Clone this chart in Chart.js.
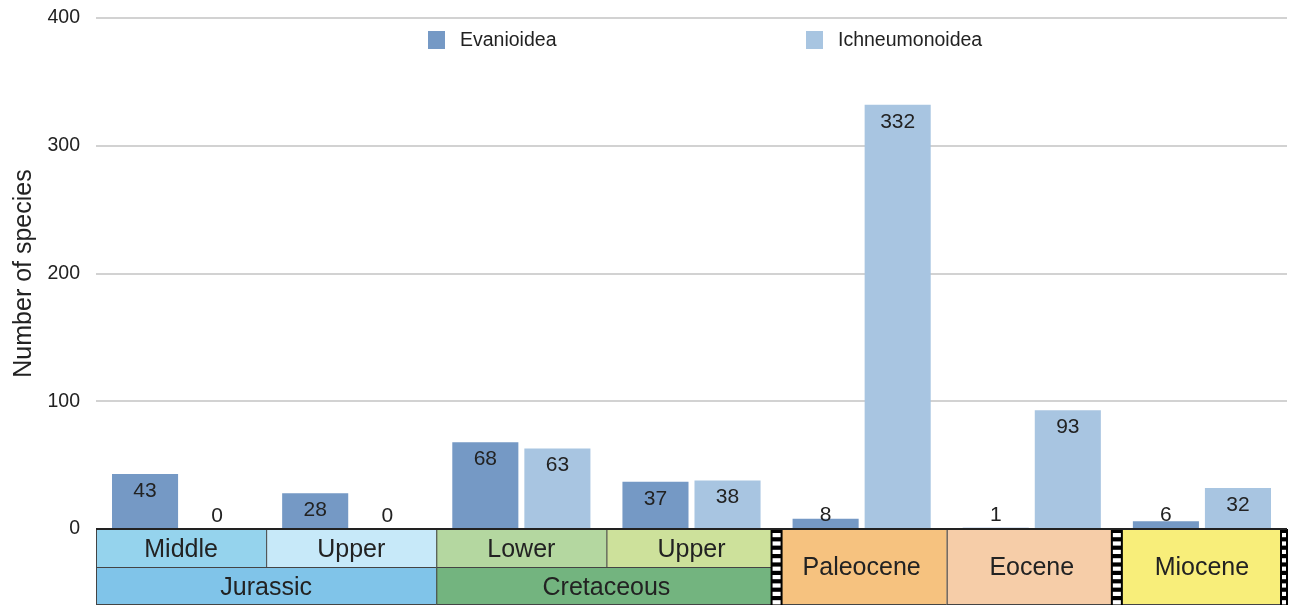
<!DOCTYPE html>
<html>
<head>
<meta charset="utf-8">
<script src="https://cdn.jsdelivr.net/npm/chart.js@4/dist/chart.umd.min.js"></script>
<style>
  html, body { margin: 0; padding: 0; background: #ffffff; }
  #wrap { width: 1294px; height: 607px; }
</style>
</head>
<body>
<div id="wrap"><canvas id="c" width="1294" height="607"></canvas></div>
<script>
// ---- data ----
const categories = ['Middle Jurassic', 'Upper Jurassic', 'Lower Cretaceous', 'Upper Cretaceous', 'Paleocene', 'Eocene', 'Miocene'];
const evanioidea = [43, 28, 68, 37, 8, 1, 6];
const ichneumonoidea = [0, 0, 63, 38, 332, 93, 32];
const seriesNames = ['Evanioidea', 'Ichneumonoidea'];
const yTickValues = [0, 100, 200, 300, 400];
const stageLabels = ['Middle', 'Upper', 'Lower', 'Upper', 'Paleocene', 'Eocene', 'Miocene'];
const periodLabels = ['Jurassic', 'Jurassic', 'Cretaceous', 'Cretaceous', null, null, null];
const gapAfter = [3, 5, 6]; // hiatus markers after these category indices
const yTitle = 'Number of species';

// ---- styles ----
const barColors = ['#7599c5', '#a8c5e1'];
const stageColors = ['#95d3ed', '#c7e9f9', '#b4d7a0', '#cde19b', '#f6c27f', '#f6cda8', '#f8ee7a'];
const periodColors = { 'Jurassic': '#80c4e9', 'Cretaceous': '#73b47f' };
const FONT = '"Liberation Sans", Arial, Helvetica, sans-serif';

const bandPlugin = {
  id: 'band',
  afterDraw(chart) {
    const ctx = chart.ctx;
    const x = chart.scales.x;
    const area = chart.chartArea;
    const n = categories.length;
    const w = (area.right - area.left) / n;
    const top = area.bottom;
    const rowH = 38;
    const bottom = top + rowH * 2;
    ctx.save();
    ctx.font = '25px ' + FONT;
    ctx.textAlign = 'center';
    ctx.textBaseline = 'middle';
    ctx.lineWidth = 1;
    ctx.strokeStyle = '#444';
    for (let i = 0; i < n; i++) {
      const cx = x.getPixelForValue(i);
      const x0 = cx - w / 2;
      if (periodLabels[i] === null) {
        ctx.fillStyle = stageColors[i];
        ctx.fillRect(x0, top, w, rowH * 2);
        ctx.strokeRect(x0 + 0.5, top + 0.5, w, rowH * 2 - 1);
        ctx.fillStyle = '#222';
        ctx.fillText(stageLabels[i], cx, top + rowH + 1);
      } else {
        ctx.fillStyle = stageColors[i];
        ctx.fillRect(x0, top, w, rowH);
        ctx.strokeRect(x0 + 0.5, top + 0.5, w, rowH);
        ctx.fillStyle = '#222';
        ctx.fillText(stageLabels[i], cx, top + rowH / 2 + 2);
      }
    }
    // merged period boxes
    let i = 0;
    while (i < n) {
      if (periodLabels[i] === null) { i++; continue; }
      let j = i;
      while (j + 1 < n && periodLabels[j + 1] === periodLabels[i]) j++;
      const x0 = x.getPixelForValue(i) - w / 2;
      const x1 = x.getPixelForValue(j) + w / 2;
      ctx.fillStyle = periodColors[periodLabels[i]];
      ctx.fillRect(x0, top + rowH, x1 - x0, rowH);
      ctx.strokeRect(x0 + 0.5, top + rowH + 0.5, x1 - x0, rowH - 1);
      ctx.fillStyle = '#222';
      ctx.fillText(periodLabels[i], (x0 + x1) / 2, top + rowH * 1.5 + 2);
      i = j + 1;
    }
    // hiatus strips
    gapAfter.forEach(k => {
      const bx = x.getPixelForValue(k) + w / 2;
      let sx0, sw;
      if (k === n - 1) { sx0 = bx - 7; sw = 8; } else { sx0 = bx - 6; sw = 12; }
      ctx.fillStyle = '#000';
      ctx.fillRect(sx0, top, sw, bottom - top);
      ctx.fillStyle = '#fff';
      for (let yy = top + 4; yy + 4 < bottom; yy += 8.4) {
        ctx.fillRect(sx0 + 2, yy, sw - 4, 4.2);
      }
    });
    // axis line at zero
    ctx.strokeStyle = '#222';
    ctx.lineWidth = 2;
    ctx.beginPath();
    ctx.moveTo(area.left, top);
    ctx.lineTo(area.right, top);
    ctx.stroke();
    ctx.restore();
  }
};

const valueLabelPlugin = {
  id: 'valueLabels',
  afterDatasetsDraw(chart) {
    const ctx = chart.ctx;
    ctx.save();
    ctx.font = '21px ' + FONT;
    ctx.fillStyle = '#222';
    ctx.textAlign = 'center';
    ctx.textBaseline = 'middle';
    chart.data.datasets.forEach((ds, di) => {
      const meta = chart.getDatasetMeta(di);
      meta.data.forEach((bar, idx) => {
        const y = Math.min(bar.y + 17, bar.base - 13);
        ctx.fillText(String(ds.data[idx]), bar.x, y);
      });
    });
    ctx.restore();
  }
};

const legendPlugin = {
  id: 'customLegend',
  afterDraw(chart) {
    const ctx = chart.ctx;
    const area = chart.chartArea;
    const offsets = [332, 710];
    ctx.save();
    ctx.font = '19.5px ' + FONT;
    ctx.textBaseline = 'middle';
    ctx.textAlign = 'left';
    chart.data.datasets.forEach((ds, di) => {
      const bx = area.left + offsets[di];
      ctx.fillStyle = ds.backgroundColor;
      ctx.fillRect(bx, 31, 17, 18);
      ctx.fillStyle = '#222';
      ctx.fillText(ds.label, bx + 32, 41);
    });
    ctx.restore();
  }
};

new Chart(document.getElementById('c'), {
  type: 'bar',
  data: {
    labels: categories,
    datasets: [
      { label: seriesNames[0], data: evanioidea, backgroundColor: barColors[0], categoryPercentage: 0.847, barPercentage: 0.917 },
      { label: seriesNames[1], data: ichneumonoidea, backgroundColor: barColors[1], categoryPercentage: 0.847, barPercentage: 0.917 }
    ]
  },
  options: {
    responsive: false,
    animation: false,
    layout: { padding: { left: 0, right: 7, top: 18, bottom: 78 } },
    plugins: { legend: { display: false }, tooltip: { enabled: false } },
    scales: {
      x: {
        ticks: { display: false },
        grid: { display: false },
        border: { display: false },
        afterFit(scale) { scale.height = 0; scale.paddingLeft = 0; scale.paddingRight = 0; }
      },
      y: {
        min: 0, max: 400,
        afterBuildTicks(scale) { scale.ticks = yTickValues.map(v => ({ value: v })); },
        afterFit(scale) { scale.width = 96; scale.paddingTop = 0; scale.paddingBottom = 0; },
        ticks: { padding: 16, color: '#222', font: { family: FONT, size: 19.5 } },
        grid: { color: '#d2d2d2', lineWidth: 2, drawTicks: false },
        border: { display: false },
        title: { display: true, text: yTitle, color: '#222', font: { family: FONT, size: 25 }, padding: { top: 9, bottom: 0 } }
      }
    }
  },
  plugins: [bandPlugin, valueLabelPlugin, legendPlugin]
});
</script>
</body>
</html>
